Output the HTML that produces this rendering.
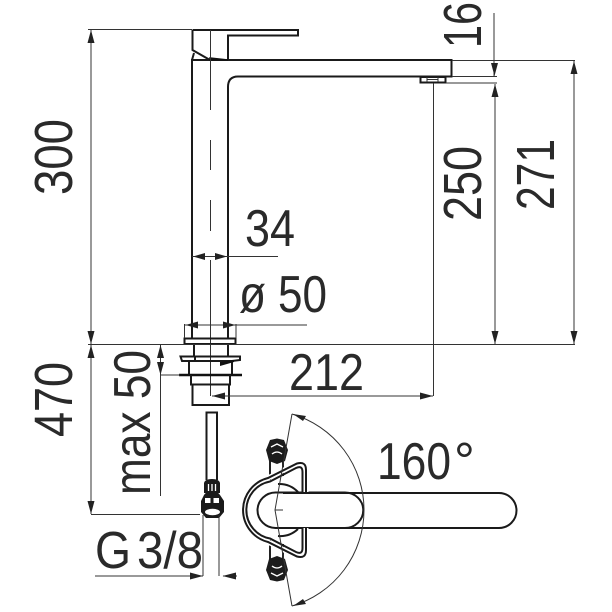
<!DOCTYPE html>
<html><head><meta charset="utf-8"><style>
html,body{margin:0;padding:0;background:#fff}
svg{display:block}
text{font-family:"Liberation Sans",sans-serif;fill:#2a2a2a}
.t{stroke:#1a1a1a;stroke-width:2;fill:none}
.d{stroke:#333;stroke-width:1;fill:none}
.a{fill:#222;stroke:none}
</style></head><body>
<svg width="612" height="612" viewBox="0 0 612 612" xmlns="http://www.w3.org/2000/svg">
<!-- faucet -->
<path class="t" d="M192 338V60H451.500V76.500H238Q228 76.500 228 87V338"/>
<path class="t" d="M192.500 30H298V35.500H228V60M192.500 30V50L210 60"/>
<path class="t" d="M192 60L194 53"/>
<path d="M210 58L228 60H210Z" fill="#111" stroke="#111" stroke-width="1.500"/>
<rect class="t" x="420.500" y="77" width="25" height="5.500" stroke-width="1.800"/>
<path class="d" d="M427 77V82M438 77V82M427 79.500H438" stroke-width="1.500"/>
<!-- centre line -->
<path class="d" d="M210.500 30V110M210.500 140V170M210.500 200V231M210.500 260V396" stroke-width="1.100"/>
<!-- base -->
<rect class="t" x="184.500" y="338.500" width="51" height="5.500"/>
<path class="t" d="M194 344V356M228 344V356"/>
<path class="t" d="M180.500 356.500H240V360L232 361H182Z"/>
<path class="t" d="M189 361V375M232 361V375M195 357V361"/>
<path d="M220 366L234 362V360L220 362Z" fill="#111"/>
<path d="M179 375H242" stroke="#111" stroke-width="2.500"/>
<path class="t" d="M191 375V384M230 375V384M190 384.500H231M192.500 384.500V405H229V384.500"/>
<!-- hose -->
<path class="t" d="M206.500 480V412.500H217V480" stroke-width="1.800"/>
<path d="M204 483Q205 479 212 479T220 483V493H204Z" fill="#1a1a1a"/>
<path d="M208.500 484V491M212 484V491M215.500 484V491" stroke="#fff" stroke-width="1.300"/>
<path d="M204 495Q206 491.500 212 491.500T220 495L224 501V512L219 518H206L201 512V501Z" fill="#1a1a1a"/>
<path d="M205 498H210.500V503H205ZM213.500 498H219V503H213.500Z" fill="#fff"/>
<ellipse cx="212.500" cy="512" rx="7.500" ry="3.200" fill="#fff"/>
<!-- dimension lines -->
<path class="d" d="M88 29.500H192M91 30V344M88 344.500H575M91 345V514M91 514.500H200"/>
<path class="d" d="M452 60.500H575M574 61V344M452 76.500H497M446 83H497M495 84V344M494 13V76"/>
<path class="d" d="M433.500 83V396M212 396H433"/>
<path class="d" d="M192 256.500H278M184.500 324V338M236 324V338M184 325H307"/>
<path class="d" d="M160.500 345V496M160 375H180"/>
<path class="d" d="M203 515V576M219 515V576M95 576H203M223 576H237"/>
<!-- arrowheads -->
<path class="a" d="M91 30L87.500 43H94.500ZM91 344L87.500 331H94.500ZM91 345L87.500 358H94.500ZM91 514L87.500 501H94.500Z"/>
<path class="a" d="M574 61L570.500 74H577.500ZM574 344L570.500 331H577.500ZM495 84L491.500 97H498.500ZM495 344L491.500 331H498.500ZM494.500 76L491 63H498Z"/>
<path class="a" d="M433 396L420 392.500V399.500ZM212 396L225 392.500V399.500Z"/>
<path class="a" d="M193 256.500L205 253V260ZM227 256.500L215 253V260Z"/>
<path class="a" d="M185.500 325L198 321.500V328.500ZM235.500 325L223 321.500V328.500Z"/>
<path class="a" d="M160.500 345L157 358H164ZM160.500 375L157 362H164Z"/>
<path class="a" d="M203 576L190 572.500V579.500ZM222.500 576L236 572.500V579.500Z"/>
<!-- top view -->
<path class="t" d="M283 493H499A17.500 17.500 0 0 1 499 528H283"/>
<path class="t" d="M257.500 510A18 18 0 0 1 275.500 492.500H345A18 17.500 0 0 1 345 528H275.500A18 18 0 0 1 257.500 510Z" stroke-width="2.200"/>
<path class="t" d="M278 484A26 26 0 0 1 298 492M278 536A26 26 0 0 0 298 529"/>
<path d="M270 460V480M283 460V476M270 540V560M283 544V560" stroke="#222" stroke-width="2" fill="none"/>
<path d="M306 492V470Q306 461 297 463.500L268 478A33 33 0 0 0 268 542L297 556.500Q306 559 306 550V528" stroke="#fff" stroke-width="5" fill="none"/>
<path class="t" d="M306 492V470Q306 461 297 463.500L268 478A33 33 0 0 0 268 542L297 556.500Q306 559 306 550V528" stroke-width="1.900"/>
<path class="t" d="M302.500 492V472Q302.500 465 296 468L270 481.500A29 29 0 0 0 270 538.500L296 552Q302.500 555 302.500 548V528" stroke-width="1.600"/>
<path d="M270 440L277 438.500L284 440L288 450L285 461L277 464L269 461L266 450Z" fill="#1c1c1c"/>
<path d="M271 447L277 444L283 447M272 454Q277 450 282 454" stroke="#fff" stroke-width="1.300" fill="none"/>
<path d="M270 580L277 581.500L284 580L288 570L285 559L277 556L269 559L266 570Z" fill="#1c1c1c"/>
<path d="M271 573L277 576L283 573M272 566Q277 570 282 566" stroke="#fff" stroke-width="1.300" fill="none"/>
<path class="d" d="M292 414L275 510L292 606M275 510H283"/>
<path class="d" d="M292 414A100 100 0 0 1 292 606"/>
<path class="a" d="M293 414L306 416L303 421ZM293 606L306 604L303 599Z"/>
<!-- labels -->
<text transform="translate(72 195) rotate(-90)" font-size="54" textLength="76" lengthAdjust="spacingAndGlyphs">300</text>
<text transform="translate(72 437) rotate(-90)" font-size="54" textLength="75" lengthAdjust="spacingAndGlyphs">470</text>
<text transform="translate(481 48) rotate(-90)" font-size="54" textLength="46" lengthAdjust="spacingAndGlyphs">16</text>
<text transform="translate(481 221) rotate(-90)" font-size="54" textLength="75" lengthAdjust="spacingAndGlyphs">250</text>
<text transform="translate(554 210) rotate(-90)" font-size="54" textLength="71" lengthAdjust="spacingAndGlyphs">271</text>
<text transform="translate(150 495) rotate(-90)" font-size="52" textLength="145" lengthAdjust="spacingAndGlyphs">max 50</text>
<text x="245" y="246" font-size="52" textLength="50" lengthAdjust="spacingAndGlyphs">34</text>
<text x="239" y="312" font-size="52" textLength="27" lengthAdjust="spacingAndGlyphs">ø</text>
<text x="278" y="312" font-size="52" textLength="49" lengthAdjust="spacingAndGlyphs">50</text>
<text x="289" y="390" font-size="52" textLength="75" lengthAdjust="spacingAndGlyphs">212</text>
<text x="377" y="479" font-size="52" textLength="74" lengthAdjust="spacingAndGlyphs">160</text>
<text x="454" y="479" font-size="52">°</text>
<text x="95" y="568" font-size="52" textLength="36" lengthAdjust="spacingAndGlyphs">G</text>
<text x="137" y="568" font-size="52" textLength="66" lengthAdjust="spacingAndGlyphs">3/8</text>
</svg>
</body></html>
